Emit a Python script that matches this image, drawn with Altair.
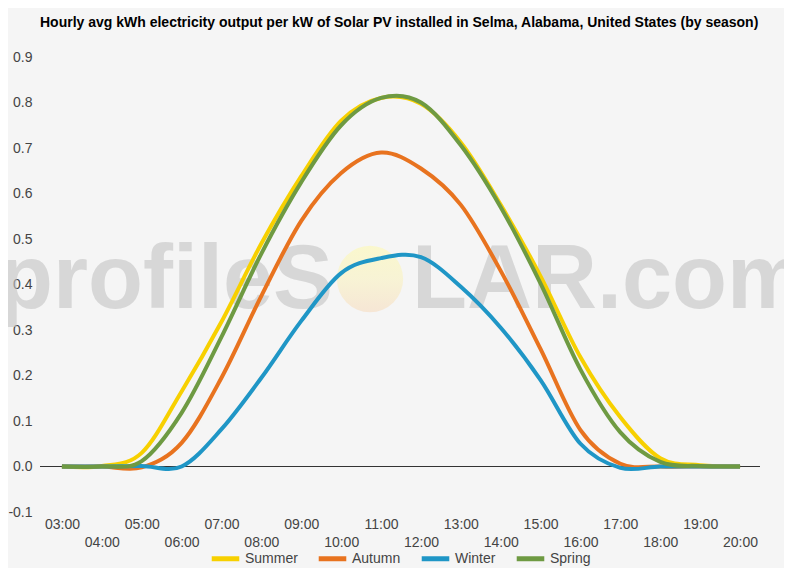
import altair as alt
import pandas as pd

# hourly averages, 03:00 .. 20:00
hours = [3, 4, 5, 6, 7, 8, 9, 10, 11, 12, 13, 14, 15, 16, 17, 18, 19, 20]
summer = [0.000, 0.001, 0.030, 0.165, 0.318, 0.490, 0.638, 0.760, 0.810, 0.797,
          0.712, 0.575, 0.418, 0.240, 0.108, 0.018, 0.003, 0.000]
autumn = [0.000, 0.000, -0.002, 0.052, 0.195, 0.375, 0.540, 0.645, 0.690, 0.655,
          0.575, 0.430, 0.258, 0.080, 0.006, 0.000, 0.000, 0.000]
winter = [0.000, 0.000, 0.001, 0.000, 0.082, 0.195, 0.320, 0.425, 0.458, 0.460,
          0.395, 0.305, 0.190, 0.050, -0.003, 0.000, 0.000, 0.000]
spring = [0.000, 0.000, 0.012, 0.118, 0.285, 0.468, 0.625, 0.750, 0.810, 0.800,
          0.706, 0.570, 0.402, 0.213, 0.075, 0.010, 0.001, 0.000]

seasons = ["Summer", "Autumn", "Winter", "Spring"]
colors = ["#f7d000", "#e8731f", "#1f96c6", "#6e9a42"]
y_ticks = [-0.1, -0.05, 0.0, 0.05, 0.1, 0.15, 0.2, 0.25, 0.3, 0.35, 0.4,
           0.45, 0.5, 0.55, 0.6, 0.65, 0.7, 0.75, 0.8, 0.85, 0.9]

rows = []
for name, vals in zip(seasons, [summer, autumn, winter, spring]):
    for h, v in zip(hours, vals):
        rows.append({"hour": h, "kwh": v, "season": name})
df = pd.DataFrame(rows)

FONT = "Liberation Sans"
hour_label = "(datum.value < 10 ? '0' : '') + datum.value + ':00'"

x = alt.X("hour:Q", title=None,
          scale=alt.Scale(domain=[2.45, 20.5], nice=False, zero=False),
          axis=alt.Axis(values=hours, domain=False, ticks=False, grid=False,
                        labelExpr=f"datum.value % 2 == 0 ? ['', {hour_label}] : {hour_label}",
                        labelFont=FONT, labelFontSize=14, labelColor="#444444",
                        labelPadding=5, labelLineHeight=18, labelBaseline="top",
                        labelOverlap=False))
y = alt.Y("kwh:Q", title=None,
          scale=alt.Scale(domain=[-0.1, 0.9], nice=False, zero=False),
          axis=alt.Axis(values=y_ticks, domain=False, ticks=False,
                        labelExpr="round(datum.value * 100) % 10 == 0 ? replace(format(datum.value, '.1f'), '−', '-') : ''",
                        gridColor={"condition": {"test": "round(datum.value * 100) % 10 == 0",
                                                 "value": "#cccccc"},
                                   "value": "#e4e4e4"},
                        labelFont=FONT, labelFontSize=14, labelColor="#444444",
                        labelPadding=8, labelOverlap=False))

# watermark
wm_left = alt.Chart(pd.DataFrame({"t": ["profileS"]})).mark_text(
    font=FONT, fontSize=90, fontWeight="bold", align="right", baseline="alphabetic",
    color="#c4c4c4", opacity=0.6
).encode(text="t:N", x=alt.value(293), y=alt.value(251))
wm_right = alt.Chart(pd.DataFrame({"t": ["LAR.com"]})).mark_text(
    font=FONT, fontSize=90, fontWeight="bold", align="left", baseline="alphabetic",
    color="#c4c4c4", opacity=0.6
).encode(text="t:N", x=alt.value(372), y=alt.value(251))
sun = alt.Chart(pd.DataFrame({"t": ["sun"]})).mark_point(
    shape="circle", size=4400, filled=True, opacity=0.85,
    fill=alt.Gradient(gradient="linear", x1=0, x2=0, y1=0, y2=1,
                      stops=[alt.GradientStop(color="#fbf8c6", offset=0),
                             alt.GradientStop(color="#f8f3cf", offset=0.5),
                             alt.GradientStop(color="#f6e3cf", offset=1)])
).encode(x=alt.value(330), y=alt.value(222))

zero = alt.Chart(pd.DataFrame({"t": ["zero"]})).mark_rule(
    color="#333333", strokeWidth=1
).encode(y=alt.datum(0))

lines = alt.Chart(df).mark_line(interpolate="cardinal", strokeWidth=4).encode(
    x=x, y=y,
    color=alt.Color("season:N", sort=seasons,
                    scale=alt.Scale(domain=seasons, range=colors),
                    legend=alt.Legend(title=None, orient="none", direction="horizontal",
                                      legendX=169, legendY=485,
                                      symbolType="stroke", symbolStrokeWidth=5,
                                      symbolSize=760, labelFont=FONT, labelFontSize=14,
                                      labelColor="#444444", columnPadding=10,
                                      labelOffset=3, padding=0))
)

chart = alt.layer(wm_left, wm_right, sun, zero, lines).properties(
    width=720, height=455,
    autosize=alt.AutoSizeParams(type="none"),
    padding={"left": 32, "top": 49, "right": 24, "bottom": 56},
    title=alt.Title("Hourly avg kWh electricity output per kW of Solar PV installed in Selma, Alabama, United States (by season)",
                    anchor="start", frame="group", font=FONT, fontSize=14,
                    fontWeight="bold", color="#000000", offset=20)
).configure(background="#f5f5f5").configure_view(stroke=None)

chart.save("out.html", embed_options={"renderer": "svg", "actions": False})
